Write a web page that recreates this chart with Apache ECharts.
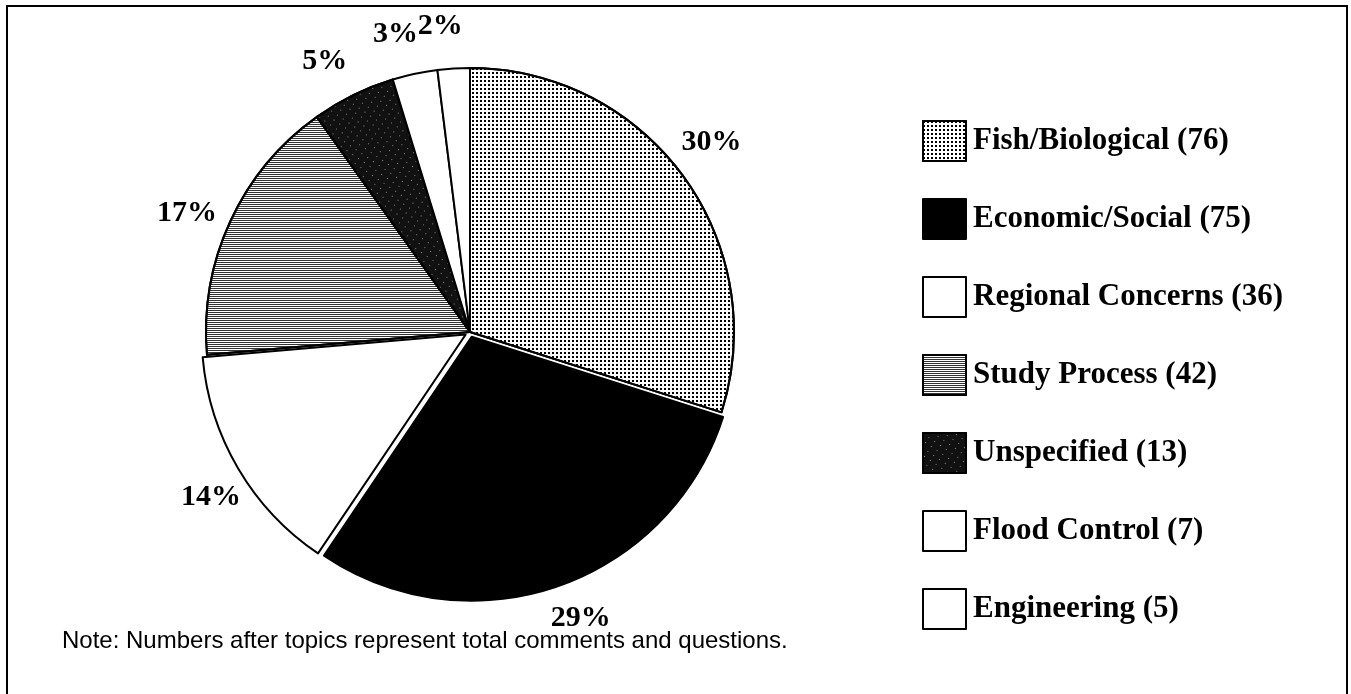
<!DOCTYPE html>
<html>
<head>
<meta charset="utf-8">
<script src="https://cdn.jsdelivr.net/npm/echarts@6/dist/echarts.min.js"></script>
<style>
html,body{margin:0;padding:0;background:#fff;}
#chart{width:1351px;height:694px;}
</style>
</head>
<body>
<div id="chart"></div>
<script>
// Data
const categories = ['Fish/Biological (76)', 'Economic/Social (75)', 'Regional Concerns (36)', 'Study Process (42)', 'Unspecified (13)', 'Flood Control (7)', 'Engineering (5)'];
const counts = [76, 75, 36, 42, 13, 7, 5];
const pctLabels = ['30%', '29%', '14%', '17%', '5%', '3%', '2%'];
const noteText = 'Note: Numbers after topics represent total comments and questions.';

// Styles (fill patterns) per slice
const sliceStyles = [
  {color: '#ffffff', decal: {symbol: 'rect', symbolSize: 1, dashArrayX: [2, 2], dashArrayY: [2, 2], color: '#000'}},
  {color: '#000000'},
  {color: '#ffffff'},
  {color: '#ffffff', decal: {symbol: 'rect', symbolSize: 1, dashArrayX: [1, 0], dashArrayY: [1, 1], color: '#333'}},
  {color: '#111111', decal: {symbol: 'rect', symbolSize: 1, dashArrayX: [1, 6], dashArrayY: [1, 5], rotation: 0.6, color: '#888'}},
  {color: '#ffffff'},
  {color: '#ffffff'}
];
const selectedIdx = [1, 2];
const pieCenter = [470, 332];
const pieRadius = 264;

const chart = echarts.init(document.getElementById('chart'), null, {renderer: 'canvas'});
const mainData = categories.map((name, i) => ({
  name: name,
  value: counts[i],
  selected: selectedIdx.indexOf(i) >= 0,
  itemStyle: Object.assign({borderColor: '#000', borderWidth: 2}, sliceStyles[i])
}));
const labelData = categories.map((name, i) => ({
  name: name,
  value: counts[i],
  label: {formatter: pctLabels[i]}
}));

chart.setOption({
  animation: false,
  backgroundColor: '#fff',
  legend: {
    orient: 'vertical',
    left: 917,
    top: 115,
    itemWidth: 43,
    itemHeight: 40,
    itemGap: 36,
    icon: 'rect',
    selectedMode: false,
    textStyle: {fontFamily: 'Liberation Serif', fontWeight: 'bold', fontSize: 31, color: '#000', padding: [0, 0, 0, 2]},
    itemStyle: {borderColor: '#000', borderWidth: 2},
    data: categories
  },
  graphic: [
    {type: 'rect', shape: {x: 7, y: 6, width: 1340, height: 700}, style: {fill: 'none', stroke: '#000', lineWidth: 2}, silent: true},
    {type: 'text', left: 62, top: 629, style: {text: noteText, font: '24px "Liberation Sans", Arial, sans-serif', fill: '#000'}}
  ],
  series: [{
    type: 'pie',
    name: 'main',
    center: pieCenter,
    radius: pieRadius,
    startAngle: 90,
    clockwise: true,
    selectedMode: 'multiple',
    selectedOffset: 5,
    emphasis: {disabled: true},
    label: {show: false},
    labelLine: {show: false},
    data: mainData
  }, {
    type: 'pie',
    name: 'labels',
    center: pieCenter,
    radius: [pieRadius + 22, pieRadius + 58],
    startAngle: 92,
    clockwise: true,
    silent: true,
    z: 5,
    avoidLabelOverlap: false,
    labelLayout: {hideOverlap: false},
    emphasis: {disabled: true},
    itemStyle: {color: 'rgba(0,0,0,0)', borderWidth: 0},
    label: {
      show: true,
      position: 'inside',
      fontFamily: 'Liberation Serif',
      fontWeight: 'bold',
      fontSize: 30,
      color: '#000'
    },
    labelLine: {show: false},
    data: labelData
  }]
});
</script>
</body>
</html>
